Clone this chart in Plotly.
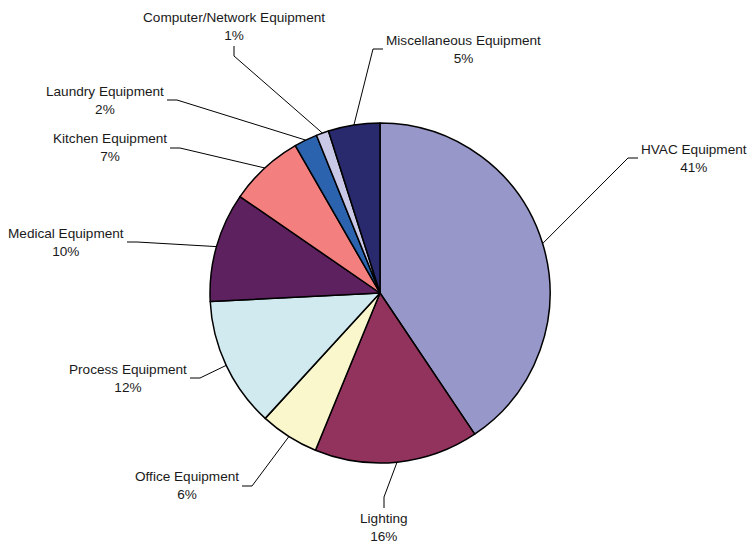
import math
import plotly.graph_objects as go

# ---- data ----
categories = ["HVAC Equipment", "Lighting", "Office Equipment", "Process Equipment",
              "Medical Equipment", "Kitchen Equipment", "Laundry Equipment",
              "Computer/Network Equipment", "Miscellaneous Equipment"]
shares = [40.6, 15.6, 5.6, 12.4, 10.4, 7.1, 2.2, 1.2, 4.9]
colors = ["#9797CA", "#92335E", "#FAF7CC", "#D1EAEF", "#5E2160",
          "#F47F7F", "#2B63AE", "#C9C8E6", "#29296E"]

# ---- layout (pixels) ----
W, H = 748, 546
CX, CY, R = 380, 293, 170
# label attach point (px) and side where the leader meets the label
label_pos = [(640, 158, "l"), (384, 510, "t"), (240, 486, "r"), (188, 378, "r"),
             (125, 242, "r"), (168, 148, "r"), (165, 100, "r"), (234, 44, "b"),
             (385, 49, "l")]

def px(x):
    return x / W

def py(y):
    return 1 - y / H

fig = go.Figure(go.Pie(
    labels=categories, values=shares, sort=False, direction="clockwise",
    rotation=0, textinfo="none", hoverinfo="label+percent",
    marker=dict(colors=colors, line=dict(color="#000000", width=1.5)),
    domain=dict(x=[px(CX - R), px(CX + R)], y=[py(CY + R), py(CY - R)]),
    showlegend=False,
))

total = sum(shares)
cum = 0.0
shapes, annotations = [], []
for name, v, (lx, ly, side) in zip(categories, shares, label_pos):
    mid = (cum + v / 2) / total * 2 * math.pi
    cum += v
    ex = CX + R * math.sin(mid)
    ey = CY - R * math.cos(mid)
    if side == "l":
        end, elbow = (lx - 2, ly), (lx - 12, ly)
        ann = dict(x=px(lx), y=py(ly), xanchor="left", yanchor="middle")
    elif side == "r":
        end, elbow = (lx + 2, ly), (lx + 12, ly)
        ann = dict(x=px(lx), y=py(ly), xanchor="right", yanchor="middle")
    elif side == "t":
        end, elbow = (lx, ly - 2), (lx, ly - 13)
        ann = dict(x=px(lx), y=py(ly), xanchor="center", yanchor="top")
    else:
        end, elbow = (lx, ly + 2), (lx, ly + 12)
        ann = dict(x=px(lx), y=py(ly), xanchor="center", yanchor="bottom")
    path = (f"M {px(ex)} {py(ey)} L {px(elbow[0])} {py(elbow[1])} "
            f"L {px(end[0])} {py(end[1])}")
    shapes.append(dict(type="path", xref="paper", yref="paper", path=path,
                       line=dict(color="#000000", width=1)))
    pct = round(v / total * 100)
    annotations.append(dict(ann, xref="paper", yref="paper", showarrow=False,
                            text=f"{name}<br>{pct}%", align="center",
                            borderpad=0,
                            font=dict(family="Liberation Sans, Arial", size=13.6,
                                      color="#1a1a1a")))

fig.update_layout(width=W, height=H, margin=dict(l=0, r=0, t=0, b=0),
                  paper_bgcolor="white", plot_bgcolor="white",
                  shapes=shapes, annotations=annotations)
fig.write_html("out.html", config={"displayModeBar": False},
               post_script="document.body.style.margin='0';")
